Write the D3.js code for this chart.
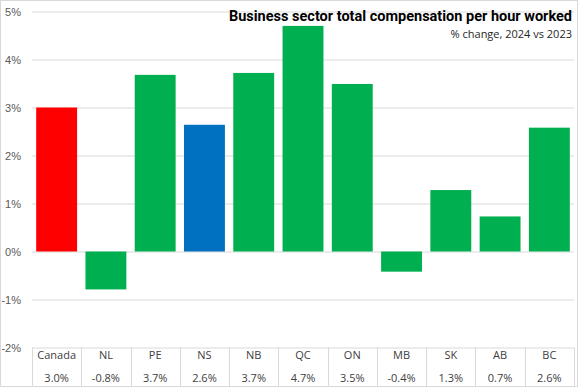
<!DOCTYPE html>
<html>
<head>
<meta charset="utf-8">
<script src="https://cdn.jsdelivr.net/npm/d3@7"></script>
<style>
  body { margin: 0; background: #fff; }
  svg { display: block; font-family: "Open Sans", "Noto Sans", sans-serif; }
</style>
</head>
<body>
<svg id="chart" width="578" height="387"></svg>
<script>
// data
var regions = ["Canada", "NL", "PE", "NS", "NB", "QC", "ON", "MB", "SK", "AB", "BC"];
var values = [3.0, -0.79, 3.68, 2.64, 3.72, 4.70, 3.49, -0.42, 1.28, 0.73, 2.58];
var valueLabels = ["3.0%", "-0.8%", "3.7%", "2.6%", "3.7%", "4.7%", "3.5%", "-0.4%", "1.3%", "0.7%", "2.6%"];
var yTicks = [-2, -1, 0, 1, 2, 3, 4, 5];

var svg = d3.select("#chart"),
	width = +svg.attr("width"),
	height = +svg.attr("height");

var plotLeft = 32, plotRight = 574, plotTop = 11.5, plotBottom = 347.5;

var x = d3.scaleBand()
	.domain(regions)
	.range([plotLeft, plotRight])
	.paddingInner(0.17)
	.paddingOuter(0.085);

var y = d3.scaleLinear()
	.domain([-2, 5])
	.range([plotBottom, plotTop]);

function barColor(d) {
	if(d == "Canada") return "#ff0000";
	if(d == "NS") return "#0070c0";
	return "#00b050";
}

// outer border
svg.append("rect")
	.attr("x", 0.5).attr("y", 0.5)
	.attr("width", width - 1).attr("height", height - 1)
	.attr("fill", "none")
	.attr("stroke", "#d9d9d9");

// gridlines + y labels
var yAxis = d3.axisLeft(y)
	.tickValues(yTicks)
	.tickSize(-(plotRight - plotLeft))
	.tickPadding(11)
	.tickFormat(function(d) { return d + "%"; });

var gy = svg.append("g")
	.attr("transform", "translate(" + plotLeft + ",0)")
	.call(yAxis);
gy.select(".domain").remove();
gy.selectAll(".tick line").attr("stroke", "#d9d9d9");
gy.selectAll(".tick text")
	.attr("fill", "#595959")
	.style("font-size", "11px");

// bars
svg.selectAll(".bar")
	.data(regions)
	.enter().append("rect")
	.attr("class", "bar")
	.attr("x", function(d) { return x(d); })
	.attr("width", x.bandwidth())
	.attr("y", function(d, i) { return y(Math.max(0, values[i])); })
	.attr("height", function(d, i) { return Math.abs(y(values[i]) - y(0)); })
	.attr("fill", barColor);

// data table
var step = x.step();
var cellEdges = regions.map(function(d) { return x(d) - x.paddingInner() * step / 2; });
cellEdges.push(plotRight);

svg.selectAll(".sep")
	.data(cellEdges)
	.enter().append("line")
	.attr("class", "sep")
	.attr("x1", function(d) { return Math.round(d) + 0.5; })
	.attr("x2", function(d) { return Math.round(d) + 0.5; })
	.attr("y1", plotBottom)
	.attr("y2", height)
	.attr("stroke", "#d9d9d9");

svg.selectAll(".cat")
	.data(regions)
	.enter().append("text")
	.attr("class", "cat")
	.attr("x", function(d) { return x(d) + x.bandwidth() / 2; })
	.attr("y", 359)
	.attr("text-anchor", "middle")
	.attr("fill", "#404040")
	.style("font-size", "11px")
	.text(function(d) { return d; });

svg.selectAll(".val")
	.data(valueLabels)
	.enter().append("text")
	.attr("class", "val")
	.attr("x", function(d, i) { return x(regions[i]) + x.bandwidth() / 2; })
	.attr("y", 382)
	.attr("text-anchor", "middle")
	.attr("fill", "#404040")
	.style("font-size", "11px")
	.text(function(d) { return d; });

// titles
svg.append("text")
	.attr("x", 572)
	.attr("y", 21)
	.attr("text-anchor", "end")
	.attr("fill", "#000")
	.style("font-family", "'Liberation Sans Narrow', 'Roboto', sans-serif")
	.style("font-weight", "bold")
	.style("font-size", "14.5px")
	.text("Business sector total compensation per hour worked");

svg.append("text")
	.attr("x", 572)
	.attr("y", 38)
	.attr("text-anchor", "end")
	.attr("fill", "#262626")
	.style("font-size", "11px")
	.text("% change, 2024 vs 2023");
</script>
</body>
</html>
